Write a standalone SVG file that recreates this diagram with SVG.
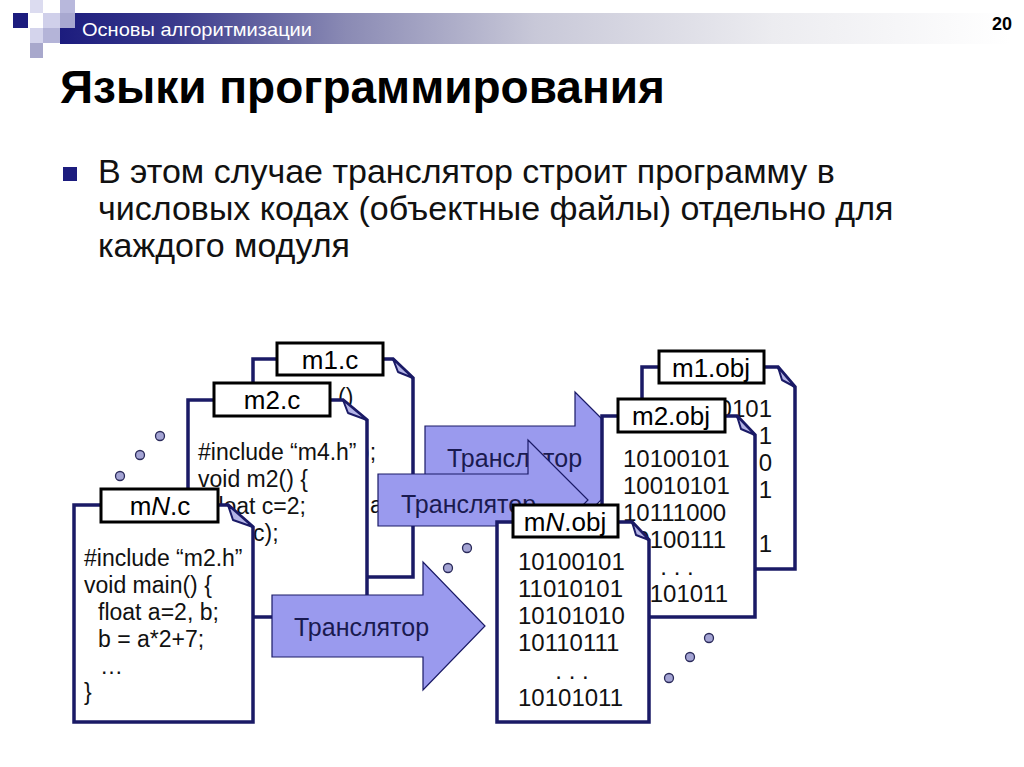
<svg xmlns="http://www.w3.org/2000/svg" width="1024" height="767" viewBox="0 0 1024 767">
<defs>
<linearGradient id="bar" x1="0" y1="0" x2="1" y2="0">
<stop offset="0" stop-color="#1c1c7e"/>
<stop offset="0.12" stop-color="#3a3a8c"/>
<stop offset="0.3" stop-color="#8a8ab4"/>
<stop offset="0.5" stop-color="#c8c8d8"/>
<stop offset="0.75" stop-color="#ececf0"/>
<stop offset="1" stop-color="#ffffff"/>
</linearGradient>
<style>
.page{fill:#fff;stroke:#1a1a66;stroke-width:3.5;stroke-linejoin:miter}
.flap{fill:#b4b4e6;stroke:#1a1a66;stroke-width:2;stroke-linejoin:round}
.lbl{fill:#fff;stroke:#000;stroke-width:3}
.lt{font-family:"Liberation Sans",Arial,sans-serif;font-size:26px;fill:#000;text-anchor:middle}
.code{font-family:"Liberation Sans",Arial,sans-serif;font-size:23px;fill:#111}
.bin{font-family:"Liberation Sans",Arial,sans-serif;font-size:24px;fill:#111}
.arrow{fill:#9a9aee;stroke:#1a1a66;stroke-width:1.2}
.at{font-family:"Liberation Sans",Arial,sans-serif;font-size:25px;fill:#1a1a50}
.dot{fill:#a4a4d4;stroke:#2a2a5a;stroke-width:1.3}
</style>
</defs>
<rect width="1024" height="767" fill="#fff"/>

<g id="header">
<rect x="60" y="13" width="950" height="31" fill="url(#bar)"/>
<rect x="30" y="0" width="13" height="13" fill="#dcdcf0"/>
<rect x="60" y="0" width="15" height="13" fill="#b8b8dc"/>
<rect x="43" y="13" width="17" height="15" fill="#d0d0ea"/>
<rect x="60" y="13" width="15" height="15" fill="#a8a8d0"/>
<rect x="30" y="28" width="13" height="15" fill="#d4d4ec"/>
<rect x="43" y="28" width="17" height="15" fill="#b4b4d8"/>
<rect x="30" y="43" width="13" height="15" fill="#a8a8cc"/>
<rect x="13" y="13" width="15" height="15" fill="#1c1c7e"/>
<text x="82" y="36" font-family="Liberation Sans,Arial,sans-serif" font-size="19" fill="#fff" textLength="230" lengthAdjust="spacingAndGlyphs">Основы алгоритмизации</text>
<text x="1012" y="30" font-family="Liberation Sans,Arial,sans-serif" font-size="18" font-weight="bold" fill="#000" text-anchor="end">20</text>
</g>

<g id="title">
<text x="60" y="103" font-family="Liberation Sans,Arial,sans-serif" font-size="46" font-weight="bold" fill="#000">Языки программирования</text>
</g>

<g id="bullet">
<rect x="63" y="167" width="14" height="14" fill="#1c1c7e"/>
<text font-family="Liberation Sans,Arial,sans-serif" font-size="34" fill="#111">
<tspan x="98" y="183">В этом случае транслятор строит программу в</tspan>
<tspan x="98" y="220">числовых кодах (объектные файлы) отдельно для</tspan>
<tspan x="98" y="257">каждого модуля</tspan>
</text>
</g>

<g id="m1c">
<path class="page" d="M253,359 H393 L413,378 V577 H253 Z"/>
<polygon class="flap" points="393,359 398,372 413,378"/>
<text class="code" x="338" y="405">()</text>
<text class="code" x="362" y="460">);</text>
<text class="code" x="370" y="513">a</text>
<rect class="lbl" x="277" y="343" width="106" height="32"/>
<text class="lt" x="330" y="369">m1.c</text>
</g>

<g id="m2c">
<path class="page" d="M188,400 H343 L367,420 V617 H188 Z"/>
<polygon class="flap" points="343,400 348,413 367,420"/>
<text class="code" x="198" y="460">#include “m4.h”</text>
<text class="code" x="198" y="487">void m2() {</text>
<text class="code" x="212" y="514">float c=2;</text>
<text class="code" x="253" y="541">c);</text>
<rect class="lbl" x="214" y="383" width="116" height="33"/>
<text class="lt" x="272" y="409">m2.c</text>
</g>

<g id="mNc">
<path class="page" d="M74,505 H228 L253,527 V722 H74 Z"/>
<polygon class="flap" points="228,505 233,520 253,527"/>
<text class="code" x="84" y="566">#include “m2.h”</text>
<text class="code" x="84" y="593">void main() {</text>
<text class="code" x="98" y="620">float a=2, b;</text>
<text class="code" x="98" y="647">b = a*2+7;</text>
<text class="code" x="100" y="674" font-size="18" fill="#555">…</text>
<text class="code" x="84" y="700">}</text>
<rect class="lbl" x="101" y="489" width="117" height="33"/>
<text class="lt" x="160" y="515">m<tspan font-style="italic">N</tspan>.c</text>
</g>

<g id="connectors">
<g id="translator1">
<path class="arrow" d="M425,426 H575 V392 L642,459 L575,526 V492 H425 Z"/>
<text class="at" x="447" y="467">Транслятор</text>
</g>
<g id="translator2">
<path class="arrow" d="M378,474 H528 V440 L588,500 L528,560 V526 H378 Z"/>
<text class="at" x="401" y="513">Транслятор</text>
</g>
<g id="translator3">
<path class="arrow" d="M272,595 H423 V562 L485,626 L423,690 V657 H272 Z"/>
<text class="at" x="294" y="636">Транслятор</text>
</g>
</g>

<g id="m1obj">
<path class="page" d="M642,367 H778 L795,387 V569 H642 Z"/>
<polygon class="flap" points="778,367 782,380 795,387"/>
<text class="bin" x="772" y="417" text-anchor="end">0101</text>
<text class="bin" x="772" y="444" text-anchor="end">1</text>
<text class="bin" x="772" y="471" text-anchor="end">0</text>
<text class="bin" x="772" y="498" text-anchor="end">1</text>
<text class="bin" x="772" y="552" text-anchor="end">1</text>
<rect class="lbl" x="659" y="351" width="105" height="32"/>
<text class="lt" x="711" y="377">m1.obj</text>
</g>

<g id="m2obj">
<path class="page" d="M602,416 H737 L755,435 V617 H602 Z"/>
<polygon class="flap" points="737,416 741,429 755,435"/>
<text class="bin" x="623" y="467">10100101</text>
<text class="bin" x="623" y="494">10010101</text>
<text class="bin" x="623" y="521">10111000</text>
<text class="bin" x="623" y="548">10100111</text>
<text class="bin" x="677" y="575" text-anchor="middle">. . .</text>
<text class="bin" x="623" y="602">10101011</text>
<rect class="lbl" x="618" y="399" width="107" height="33"/>
<text class="lt" x="671" y="425">m2.obj</text>
</g>

<g id="mNobj">
<path class="page" d="M497,522 H632 L649,540 V722 H497 Z"/>
<polygon class="flap" points="632,522 636,535 649,540"/>
<text class="bin" x="518" y="570">10100101</text>
<text class="bin" x="518" y="597">11010101</text>
<text class="bin" x="518" y="624">10101010</text>
<text class="bin" x="518" y="651">10110111</text>
<text class="bin" x="572" y="679" text-anchor="middle">. . .</text>
<text class="bin" x="518" y="706">10101011</text>
<rect class="lbl" x="513" y="505" width="105" height="32"/>
<text class="lt" x="565" y="531">m<tspan font-style="italic">N</tspan>.obj</text>
</g>

<g id="ellipsis-dots">
<circle class="dot" cx="160" cy="436" r="4.5"/>
<circle class="dot" cx="140" cy="455" r="4.5"/>
<circle class="dot" cx="120" cy="476" r="4.5"/>
<circle class="dot" cx="467" cy="548" r="4.5"/>
<circle class="dot" cx="448" cy="568" r="4.5"/>
<circle class="dot" cx="709" cy="638" r="4.5"/>
<circle class="dot" cx="690" cy="657" r="4.5"/>
<circle class="dot" cx="669" cy="678" r="4.5"/>
</g>
</svg>
